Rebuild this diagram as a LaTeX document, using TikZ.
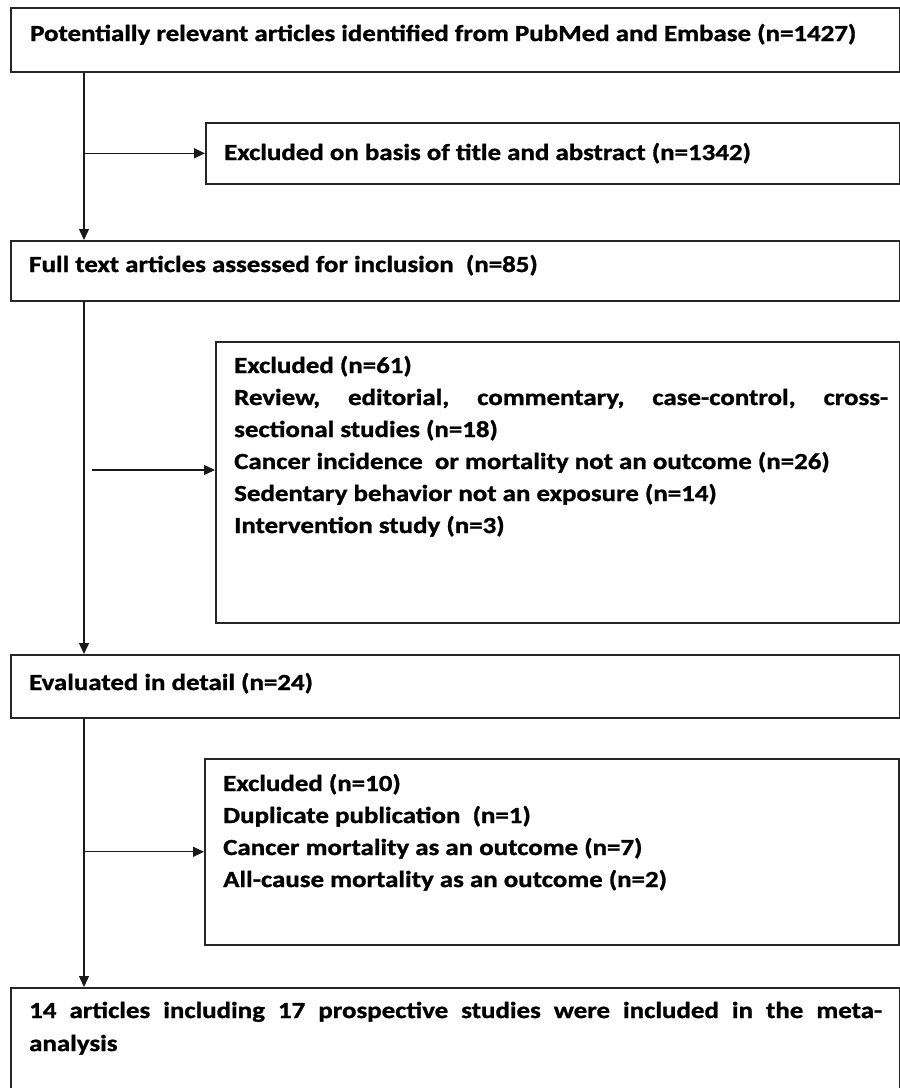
\documentclass[tikz,border=0pt]{standalone}
\usepackage{fontspec}
\setmainfont{Carlito}[FakeStretch=1.17, BoldFeatures={FakeBold=1.2}]
\usetikzlibrary{arrows.meta}
\tikzset{
  box/.style={draw=black!85, line width=1.6pt, inner sep=0pt, anchor=north west},
  txt/.style={anchor=base west, inner sep=0pt, font=\fontsize{23}{32}\selectfont\bfseries},
  conn/.style={draw=black!90, line width=1.3pt},
  arr/.style={conn, -{Triangle[length=11pt,width=10pt]}}
}
\begin{document}
\begin{tikzpicture}[x=1pt,y=-1pt]
\useasboundingbox (0,0) rectangle (900,1088);
% boxes
\node[box, minimum width=889pt, minimum height=64pt] (b1) at (10,7) {};
\node[box, minimum width=694pt, minimum height=61pt] (e1) at (205,122) {};
\node[box, minimum width=889pt, minimum height=60pt] (b2) at (10,240) {};
\node[box, minimum width=684pt, minimum height=281pt] (e2) at (215,341) {};
\node[box, minimum width=889pt, minimum height=63pt] (b3) at (10,654) {};
\node[box, minimum width=694pt, minimum height=186pt] (e3) at (204,758) {};
\node[box, minimum width=889pt, minimum height=120pt] (b4) at (10,987) {};
% texts
\node[txt] (t1) at (30,41) {Potentially relevant articles identified from PubMed and Embase (n=1427)};
\node[txt] (t2) at (224,160) {Excluded on basis of title and abstract (n=1342)};
\node[txt] (t3) at (29,272) {Full text articles assessed for inclusion\ \ (n=85)};
\node[txt] (t4a) at (234,373) {Excluded (n=61)};
\node[txt] (t4b) at (234,405) {\makebox[654pt][s]{Review, editorial, commentary, case-control, cross-}};
\node[txt] (t4c) at (234,437) {sectional studies (n=18)};
\node[txt] (t4d) at (234,469) {Cancer incidence\ \ or mortality not an outcome (n=26)};
\node[txt] (t4e) at (234,501) {Sedentary behavior not an exposure (n=14)};
\node[txt] (t4f) at (234,533) {Intervention study (n=3)};
\node[txt] (t5) at (29,690) {Evaluated in detail (n=24)};
\node[txt] (t6a) at (223,791) {Excluded (n=10)};
\node[txt] (t6b) at (223,823) {Duplicate publication\ \ (n=1)};
\node[txt] (t6c) at (223,855) {Cancer mortality as an outcome (n=7)};
\node[txt] (t6d) at (223,887) {All-cause mortality as an outcome (n=2)};
\node[txt] (t7a) at (29,1018) {\makebox[853pt][s]{14 articles including 17 prospective studies were included in the meta-}};
\node[txt] (t7b) at (29,1051) {analysis};
% connectors
\coordinate (sp) at (84,0);
\coordinate (g2) at (92,0);
\draw[arr] (b1.south west -| sp) -- (b2.north west -| sp);
\draw[arr] (b2.south west -| sp) -- (b3.north west -| sp);
\draw[arr] (b3.south west -| sp) -- (b4.north west -| sp);
\draw[arr] (sp |- e1.west) -- (e1.west);
\draw[arr] (g2 |- 0,470) -- (e2.west |- 0,470);
\draw[arr] (sp |- e3.west) -- (e3.west);
\end{tikzpicture}
\end{document}
